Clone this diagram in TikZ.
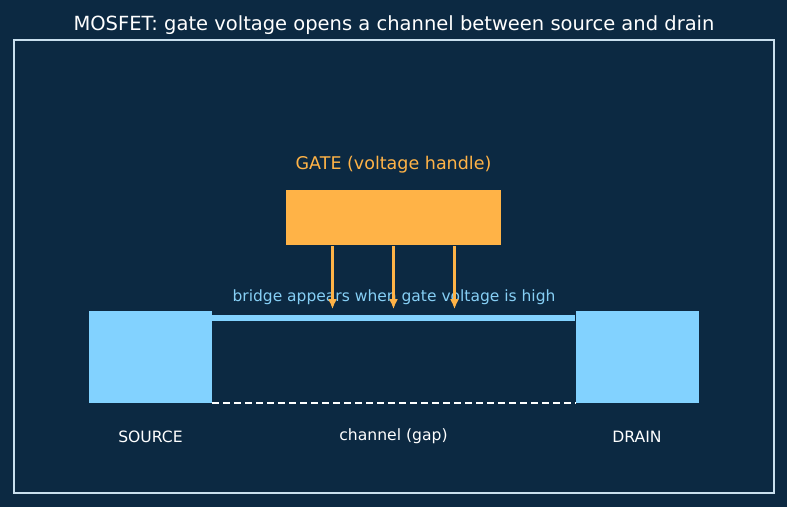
\documentclass[tikz,border=0pt]{standalone}
\usepackage{fontspec}
\setmainfont{DejaVu Sans}
\usetikzlibrary{arrows.meta, positioning, calc}
\definecolor{mosbackground}{HTML}{0C2942}
\definecolor{mosframe}{HTML}{C9DFEE}
\definecolor{mosgate}{HTML}{FFB347}
\definecolor{mosterminal}{HTML}{82D2FF}
\definecolor{mosbridgetext}{HTML}{86CFF5}

\begin{document}
\begin{tikzpicture}[
        x=1pt, y=-1pt,
        terminal/.style={
            fill=mosterminal,
            minimum width=123pt,
            minimum height=92pt,
            inner sep=0pt
        },
        gatebox/.style={
            fill=mosgate,
            minimum width=215pt,
            minimum height=55pt,
            inner sep=0pt
        },
        fieldarrow/.style={-{Latex[length=10pt, width=9pt]}, line width=2.4pt, mosgate},
        bridge/.style={line width=6pt, mosterminal},
        gap/.style={dash pattern=on 7pt off 4pt, line width=1.6pt, white},
        caption/.style={font=\fontsize{15.6}{18}\selectfont, text=white}
    ]
        \useasboundingbox (0,0) rectangle (787,507);
        \fill[mosbackground] (0,0) rectangle (787,507);
        \draw[mosframe, line width=1.6pt] (14,40) rectangle (774,493);

        \node[font=\fontsize{19.5}{22}\selectfont, text=white] (title) at (394,25)
            {MOSFET: gate voltage opens a channel between source and drain};

        \node[gatebox] (gate) at (393.5,217.5) {};
        \node[above=13pt of gate, font=\fontsize{17.5}{20}\selectfont, text=mosgate] (gatelabel)
            {GATE (voltage handle)};

        \node[terminal] (source) at (150.5,357) {};
        \node[terminal] (drain) at (637,357) {};

        \coordinate (bridgeleft) at ($(source.north east)+(0,7)$);
        \coordinate (bridgeright) at ($(drain.north west)+(0,7)$);
        \draw[bridge] (bridgeleft) -- (bridgeright);
        \draw[gap] (source.south east) -- (drain.south west);

        \node[font=\fontsize{15.5}{18}\selectfont, text=mosbridgetext] (bridgelabel) at (394,297)
            {bridge appears when gate voltage is high};

        % gate field pushes down onto the bridge
        \foreach \dx/\name in {-61/left, 0/middle, 61/right} {
            \coordinate (tip\name) at ($(gate.south)+(\dx,64)$);
            \draw[fieldarrow] ($(gate.south)+(\dx,1)$) -- (tip\name);
        }

        \node[caption, below=24pt of source] (sourcelabel) {SOURCE};
        \node[caption, below=24pt of drain] (drainlabel) {DRAIN};
        \node[caption] (gaplabel) at (sourcelabel -| gate) {channel (gap)};
    \end{tikzpicture}
\end{document}
